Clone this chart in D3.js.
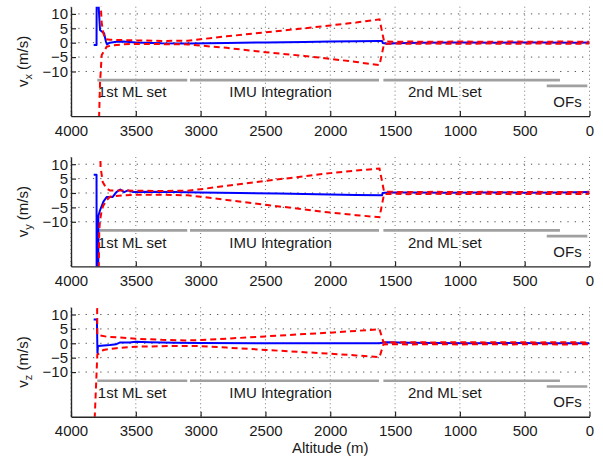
<!DOCTYPE html>
<html><head><meta charset="utf-8">
<script src="https://cdn.jsdelivr.net/npm/d3@7"></script>
<style>
html,body{margin:0;padding:0;background:#fff;}
text{font-family:"Liberation Sans",Arial,Helvetica,sans-serif;fill:#1a1a1a;}
</style></head>
<body><svg id="chart" width="603" height="458"></svg>
<script>
// ---------- data ----------
const altTicks = [4000,3500,3000,2500,2000,1500,1000,500,0];
const yTicks = [10,5,0,-5,-10];
const yRange = [-25.5, 12.5];
const panelLabels = ["x","y","z"];

// estimates [altitude, m/s]
const vxEst = [[3825,-0.8],[3803,-0.8],[3802,15],[3790,15],[3776,4.4],[3760,3.8],[3745,3.3],[3730,0.3],[3722,-0.6],[3700,0],[3650,0.3],[3600,0.4],[3500,0.1],[3300,-0.2],[3100,-0.3],[2800,-0.1],[2500,0.1],[2200,0.2],[2000,0.4],[1800,0.5],[1620,0.6],[1600,0.6],[1595,-0.1],[1560,-0.4],[1500,-0.2],[1300,0],[1000,0.1],[700,0],[400,0.1],[100,0],[0,0.1]];
const vxUpper = [[3785,25],[3763,6.8],[3750,3.3],[3735,1.2],[3700,1.0],[3600,0.9],[3500,0.8],[3300,0.6],[3100,0.7],[3000,1.2],[2800,2.2],[2500,3.6],[2200,5.0],[2000,6.0],[1800,7.0],[1620,8.1],[1585,0.5],[1500,0.3],[1400,0.4],[1200,0.3],[1000,0.4],[800,0.3],[600,0.4],[400,0.3],[200,0.4],[0,0.3]];
const vxLower = [[3792,-40],[3776,-14],[3763,-4.3],[3725,-1.4],[3680,-0.9],[3600,-0.6],[3500,-0.4],[3300,-0.5],[3100,-0.6],[3000,-1.0],[2800,-1.8],[2500,-3.3],[2200,-4.6],[2000,-5.6],[1800,-6.7],[1620,-7.8],[1585,-0.4],[1500,-0.3],[1400,-0.4],[1200,-0.3],[1000,-0.4],[800,-0.3],[600,-0.4],[400,-0.3],[200,-0.4],[0,-0.3]];

const vyEst = [[3825,6.3],[3803,6.3],[3802,-40],[3790,-40],[3789,-8],[3776,-6],[3750,-3],[3725,-1.4],[3680,-1.4],[3650,0.3],[3620,1.2],[3590,0.3],[3560,0.9],[3520,0.3],[3400,0.4],[3200,0.3],[3000,0.2],[2700,0],[2400,-0.2],[2000,-0.5],[1800,-0.7],[1600,-0.8],[1596,0],[1550,0.2],[1400,0.2],[1100,0.1],[800,0.2],[500,0.1],[200,0.2],[0,0.3]];
const vyUpper = [[3778,25],[3772,9],[3755,3.8],[3725,1.5],[3700,0.9],[3600,0.9],[3500,0.8],[3300,0.7],[3100,0.8],[3000,1.3],[2800,2.5],[2500,4.2],[2200,5.8],[2000,6.9],[1800,7.8],[1620,8.5],[1585,0.5],[1500,0.4],[1400,0.3],[1200,0.4],[1000,0.3],[800,0.4],[600,0.3],[400,0.4],[200,0.3],[0,0.4]];
const vyLower = [[3790,-40],[3782,-13],[3776,-9.5],[3763,-6],[3750,-4.3],[3725,-2.5],[3700,-1.3],[3600,-0.8],[3500,-0.6],[3300,-0.6],[3100,-0.8],[3000,-1.3],[2800,-2.4],[2500,-4.1],[2200,-5.7],[2000,-6.8],[1800,-7.7],[1620,-8.4],[1585,-0.4],[1500,-0.3],[1400,-0.4],[1200,-0.3],[1000,-0.4],[800,-0.3],[600,-0.4],[400,-0.3],[200,-0.4],[0,-0.3]];

const vzEst = [[3825,8.3],[3800,8.3],[3796,-3.4],[3792,-0.9],[3700,-0.6],[3650,-0.3],[3620,0.3],[3550,0.3],[3500,0.5],[3400,0.4],[3200,0.2],[3000,0.1],[2500,0],[2000,0],[1620,0],[1600,0.2],[1560,0.4],[1400,0.2],[1200,0.1],[900,0],[600,0.1],[300,0],[0,0]];
const vzUpper = [[3802,40],[3797,2.9],[3725,2.3],[3500,1.6],[3300,1.2],[3100,1.0],[3000,1.1],[2800,1.6],[2500,2.4],[2200,3.2],[2000,3.7],[1800,4.3],[1620,4.9],[1590,0.4],[1500,0.3],[1400,0.4],[1200,0.3],[1000,0.4],[800,0.3],[600,0.4],[400,0.3],[200,0.4],[0,0.3]];
const vzLower = [[3830,-40],[3797,-4],[3750,-2.3],[3650,-1.7],[3500,-1.2],[3300,-1.0],[3100,-0.9],[3000,-1.0],[2800,-1.5],[2500,-2.3],[2200,-3.1],[2000,-3.6],[1800,-4.2],[1620,-4.8],[1590,-0.4],[1500,-0.3],[1400,-0.4],[1200,-0.3],[1000,-0.4],[800,-0.3],[600,-0.4],[400,-0.3],[200,-0.4],[0,-0.3]];

// flight phases
const phaseNames = ["1st ML set","IMU Integration","2nd ML set","OFs"];
const phaseStart = [3797,3082,1590,330];
const phaseEnd = [3103,1624,228,17];
const phaseLevel = [-13,-13,-13,-15];
const phaseLabelAlt = [3793,2779,1400,279];
const phaseLabelLevel = [-19,-19,-19,-22.3];

// ---------- layout ----------
const svg = d3.select("#chart");
const L = 71, R = 589.5, H = 109.4;
const tops = [6.7, 157, 307.3];
const x = d3.scaleLinear().domain([4000,0]).range([L,R]);

const panels = [
  {est:vxEst, up:vxUpper, lo:vxLower},
  {est:vyEst, up:vyUpper, lo:vyLower},
  {est:vzEst, up:vzUpper, lo:vzLower}
];

panels.forEach((p,i)=>{
  const top = tops[i];
  const y = d3.scaleLinear().domain(yRange).range([top+H, top]);
  const g = svg.append("g");
  const cid = "clip"+i;
  svg.append("clipPath").attr("id",cid).append("rect")
    .attr("x",L).attr("y",top).attr("width",R-L).attr("height",H);

  // grid
  g.selectAll(".hg").data(yTicks).join("line")
    .attr("x1",L).attr("x2",R).attr("y1",d=>y(d)).attr("y2",d=>y(d))
    .attr("stroke","#555").attr("stroke-width",1).attr("stroke-dasharray","1.3,6");
  g.selectAll(".vg").data(altTicks).join("line")
    .attr("x1",d=>x(d)).attr("x2",d=>x(d)).attr("y1",top).attr("y2",top+H)
    .attr("stroke","#777").attr("stroke-width",1).attr("stroke-dasharray","1,3");

  // phase bars
  phaseNames.forEach((n,k)=>{
    g.append("line").attr("x1",x(phaseStart[k])).attr("x2",x(phaseEnd[k]))
      .attr("y1",y(phaseLevel[k])).attr("y2",y(phaseLevel[k]))
      .attr("stroke","#a0a0a0").attr("stroke-width",2.6);
    g.append("text").attr("x",x(phaseLabelAlt[k])).attr("y",y(phaseLabelLevel[k]))
      .attr("font-size",15).text(n);
  });

  const line = d3.line().x(d=>x(d[0])).y(d=>y(d[1]));
  const lg = g.append("g").attr("clip-path",`url(#${cid})`);
  lg.append("path").attr("d",line(p.est)).attr("fill","none")
    .attr("stroke","#0000ff").attr("stroke-width",2).attr("stroke-linejoin","round");
  [p.up,p.lo].forEach(s=>{
    lg.append("path").attr("d",line(s)).attr("fill","none")
      .attr("stroke","#ff0000").attr("stroke-width",2).attr("stroke-dasharray","6,4");
  });

  // axes
  const ax = g.append("g").attr("transform",`translate(0,${top+H})`)
    .call(d3.axisBottom(x).tickValues(altTicks).tickSizeInner(-5).tickSizeOuter(0).tickPadding(9).tickFormat(d3.format("d")));
  const ay = g.append("g").attr("transform",`translate(${L},0)`)
    .call(d3.axisLeft(y).tickValues(yTicks).tickSizeInner(-5).tickSizeOuter(0).tickPadding(3)
      .tickFormat(d=>d<0?"\u2212"+Math.abs(d):String(d)));
  [ax,ay].forEach(a=>{
    a.select(".domain").attr("stroke","#262626").attr("stroke-width",1.4);
    a.selectAll(".tick line").attr("stroke","#262626").attr("stroke-width",1.2);
    a.selectAll(".tick text").attr("font-size",15).attr("fill","#1a1a1a")
      .attr("font-family","Liberation Sans, Arial, sans-serif");
  });
  ay.selectAll(".tick text").attr("x",-3);

  // y label
  const yl = svg.append("text").attr("transform",`translate(28,${top+H/2}) rotate(-90)`)
    .attr("text-anchor","middle").attr("font-size",15);
  yl.append("tspan").text("v");
  yl.append("tspan").attr("font-size",11).attr("dy",4).text(panelLabels[i]);
  yl.append("tspan").attr("dy",-4).text(" (m/s)");
});

svg.append("text").attr("x",(L+R)/2).attr("y",453).attr("text-anchor","middle")
  .attr("font-size",15).text("Altitude (m)");
</script></body></html>
